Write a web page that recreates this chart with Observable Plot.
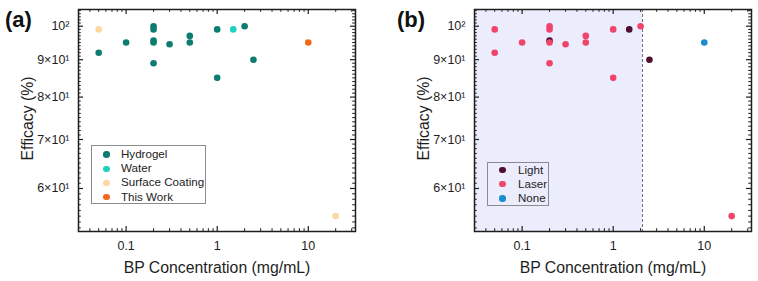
<!DOCTYPE html>
<html>
<head>
<meta charset="utf-8">
<script src="https://cdn.jsdelivr.net/npm/d3@7"></script>
<script src="https://cdn.jsdelivr.net/npm/@observablehq/plot@0.6"></script>
<style>
  body { margin: 0; background: #fff; }
  #wrap { position: relative; width: 758px; height: 281px; overflow: hidden; font-family: "Liberation Sans", Arial, sans-serif; color: #222; }
  .panel { position: absolute; top: 0; }
  .tag { position: absolute; font-weight: bold; font-size: 22px; line-height: 1; color: #111; }
  .legend { position: absolute; border: 1px solid #8c8c8c; box-sizing: border-box; }
  .legend .row { position: absolute; font-size: 11.6px; line-height: 1; white-space: nowrap; }
  .legend .sw { position: absolute; width: 6.4px; height: 6.4px; border-radius: 50%; }
</style>
</head>
<body>
<div id="wrap"></div>
<script>
// BP concentration (mg/mL) and photothermal efficacy (%) of reported formulations
const concentration = [0.05, 0.05, 0.1, 0.2, 0.2, 0.2, 0.2, 0.2, 0.3, 0.5, 0.5, 1, 1, 1.5, 2, 2.5, 10, 20];
const efficacy      = [99, 92, 95, 100, 99, 95.6, 95, 89, 94.5, 97, 95, 99, 85, 99, 100, 90, 95, 55];
const medium = ["Surface Coating", "Hydrogel", "Hydrogel", "Hydrogel", "Hydrogel", "Hydrogel", "Hydrogel", "Hydrogel",
                "Hydrogel", "Hydrogel", "Hydrogel", "Hydrogel", "Hydrogel", "Water", "Hydrogel", "Hydrogel",
                "This Work", "Surface Coating"];
const stimulus = ["Laser", "Laser", "Laser", "Laser", "Laser", "Light", "Laser", "Laser",
                  "Laser", "Laser", "Laser", "Laser", "Laser", "Light", "Laser", "Light",
                  "None", "Laser"];

const mediumNames  = ["Hydrogel", "Water", "Surface Coating", "This Work"];
const mediumColors = ["#0f7c72", "#1fd0bf", "#fdd6a2", "#f2691c"];
const stimulusNames  = ["Light", "Laser", "None"];
const stimulusColors = ["#4e0f30", "#f0446d", "#1a8dcf"];

// axis ticks and labels
const xTicks = [0.1, 1, 10];
const xTickLabels = ["0.1", "1", "10"];
const yTicks = [60, 70, 80, 90, 100];
const yTickLabels = ["6×10¹", "7×10¹", "8×10¹", "9×10¹", "10²"];
const laserLimit = 2.1; // upper concentration of the laser-driven region in panel (b)

const rows = concentration.map((c, i) => ({
  concentration: c, efficacy: efficacy[i], medium: medium[i], stimulus: stimulus[i]
}));

const W = 379, H = 281, mL = 78, mR = 24, mT = 9, mB = 50;
const fw = W - mL - mR, fh = H - mT - mB;
const xDomain = [0.03, 33];
const yDomain = [52.4, 105.4];
const ink = "#1e1e1e";

const xMinor = [];
for (const base of [0.01, 0.1, 1, 10]) for (let k = 2; k <= 9; k++) {
  const v = +(base * k).toPrecision(3);
  if (v > xDomain[0] && v < xDomain[1]) xMinor.push(v);
}
const yMinor = d3.range(53, 106).filter(v => !yTicks.includes(v));

function frameTicks() {
  const maj = 5, min = 2.8;
  return [
    Plot.ruleX(xTicks, {x: d => d, insetTop: fh - maj, stroke: ink, strokeWidth: 1.2}),
    Plot.ruleX(xTicks, {x: d => d, insetBottom: fh - maj, stroke: ink, strokeWidth: 1.2}),
    Plot.ruleX(xMinor, {x: d => d, insetTop: fh - min, stroke: ink, strokeWidth: 1}),
    Plot.ruleX(xMinor, {x: d => d, insetBottom: fh - min, stroke: ink, strokeWidth: 1}),
    Plot.ruleY(yTicks, {y: d => d, insetRight: fw - maj, stroke: ink, strokeWidth: 1.2}),
    Plot.ruleY(yTicks, {y: d => d, insetLeft: fw - maj, stroke: ink, strokeWidth: 1.2}),
    Plot.ruleY(yMinor, {y: d => d, insetRight: fw - min, stroke: ink, strokeWidth: 1}),
    Plot.ruleY(yMinor, {y: d => d, insetLeft: fw - min, stroke: ink, strokeWidth: 1})
  ];
}

function panel(colorField, names, colors, extra) {
  return Plot.plot({
    width: W, height: H,
    marginLeft: mL, marginRight: mR, marginTop: mT, marginBottom: mB,
    style: {fontFamily: "Liberation Sans, Arial, sans-serif", color: ink, background: "transparent"},
    x: {type: "log", domain: xDomain},
    y: {type: "log", domain: yDomain},
    color: {domain: names, range: colors},
    marks: [
      ...extra,
      Plot.dot(rows, {x: "concentration", y: "efficacy", fill: colorField, r: 3.3, stroke: null}),
      ...frameTicks(),
      Plot.frame({stroke: ink, strokeWidth: 1.5}),
      Plot.axisX({ticks: xTicks, tickFormat: d => xTickLabels[xTicks.indexOf(d)], tickSize: 0, tickPadding: 10,
                  fontSize: 12.5, label: null}),
      Plot.axisY({ticks: yTicks, tickFormat: d => yTickLabels[yTicks.indexOf(d)], tickSize: 0, tickPadding: 9,
                  fontSize: 12.5, label: null}),
      Plot.text(["BP Concentration (mg/mL)"], {frameAnchor: "bottom", dy: 36, fontSize: 15.8,
                  textAnchor: "middle", lineAnchor: "middle", fill: ink}),
      Plot.text(["Efficacy (%)"], {frameAnchor: "left", dx: -51, dy: -2, rotate: -90, fontSize: 15.8,
                  textAnchor: "middle", lineAnchor: "middle", fill: ink})
    ]
  });
}

function legend(parent, names, colors, box) {
  const el = document.createElement("div");
  el.className = "legend";
  Object.assign(el.style, {left: box.left + "px", top: box.top + "px", width: box.width + "px", height: box.height + "px"});
  names.forEach((name, i) => {
    const cy = box.firstRow + i * box.step - box.top;
    const sw = document.createElement("div");
    sw.className = "sw";
    Object.assign(sw.style, {left: (box.dotX - box.left - 3.7) + "px", top: (cy - 3.7) + "px", background: colors[i]});
    const tx = document.createElement("div");
    tx.className = "row";
    tx.textContent = name;
    Object.assign(tx.style, {left: (box.textX - box.left - 1) + "px", top: (cy - 7) + "px"});
    el.append(sw, tx);
  });
  parent.appendChild(el);
}

const wrap = document.getElementById("wrap");

const a = panel("medium", mediumNames, mediumColors, []);
a.classList.add("panel");
a.style.left = "0px";
wrap.appendChild(a);

const b = panel("stimulus", stimulusNames, stimulusColors, [
  Plot.rect([laserLimit], {x1: () => xDomain[0], x2: d => d, y1: () => yDomain[0], y2: () => yDomain[1], fill: "#ecedfc"}),
  Plot.ruleX([laserLimit], {stroke: "#6e6e6e", strokeWidth: 1, strokeDasharray: "3,2"})
]);
b.classList.add("panel");
b.style.left = "396px";
wrap.appendChild(b);

legend(wrap, mediumNames, mediumColors, {left: 91, top: 145, width: 115, height: 59, firstRow: 154, step: 14.2, dotX: 106, textX: 121});
legend(wrap, stimulusNames, stimulusColors, {left: 487, top: 162, width: 62, height: 44, firstRow: 169.5, step: 14.3, dotX: 502, textX: 518});

for (const [t, x] of [["(a)", 5], ["(b)", 397]]) {
  const el = document.createElement("div");
  el.className = "tag";
  el.textContent = t;
  Object.assign(el.style, {left: x + "px", top: "9px"});
  wrap.appendChild(el);
}
</script>
</body>
</html>
